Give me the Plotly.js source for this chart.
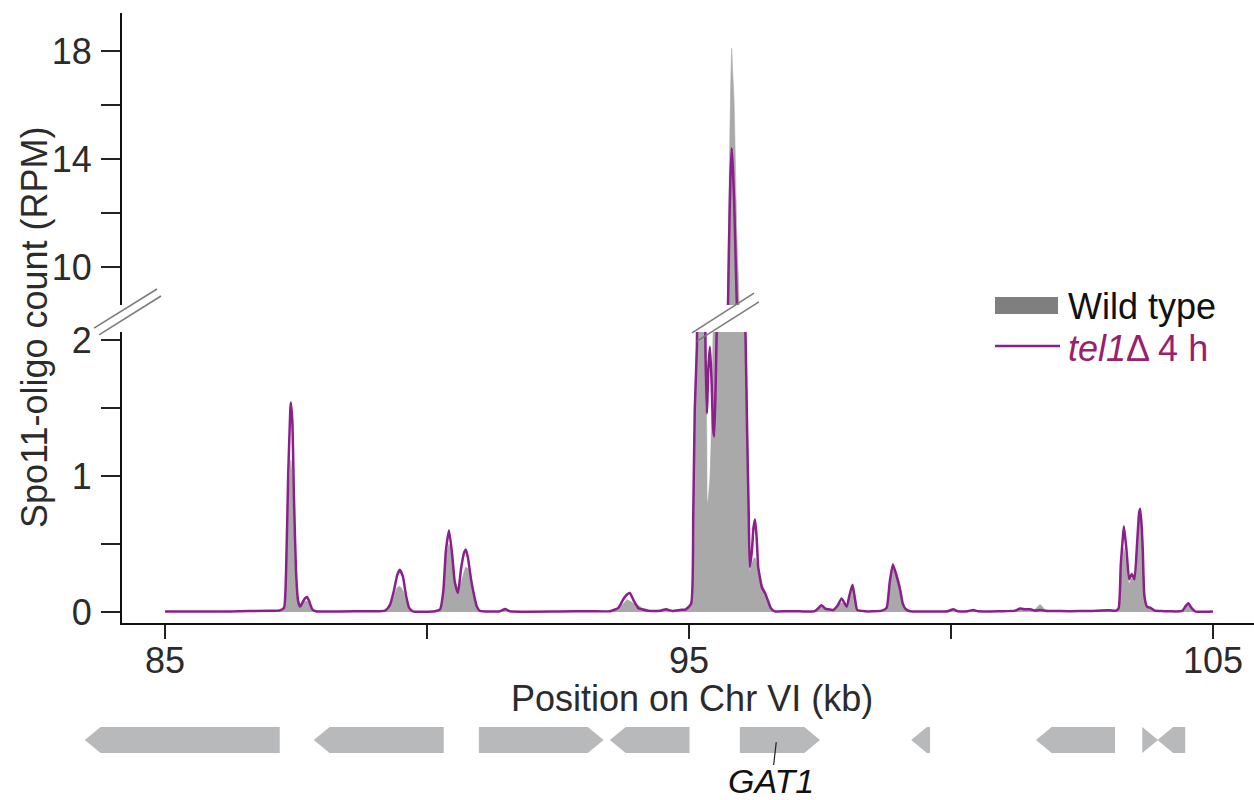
<!DOCTYPE html>
<html>
<head>
<meta charset="utf-8">
<script src="https://cdn.plot.ly/plotly-3.0.1.min.js"></script>
<style>html,body{margin:0;padding:0;background:#fff;}#chart{width:1254px;height:800px;}</style>
</head>
<body>
<div id="chart"></div>
<script>
// Position on Chr VI (kb)
const positionKb = [85.00,86.24,87.00,87.19,87.27,87.31,87.35,87.39,87.40,87.43,87.46,87.50,87.54,87.58,87.61,87.67,87.71,87.75,87.81,87.88,
88.34,88.91,89.20,89.29,89.37,89.43,89.48,89.54,89.60,89.66,89.73,90.15,90.25,90.31,90.36,90.42,90.48,90.53,90.59,90.65,
90.71,90.74,90.78,90.84,90.90,90.95,91.01,91.39,91.49,91.58,92.54,93.11,93.49,93.65,93.74,93.82,93.87,93.95,94.03,94.10,
94.22,94.45,94.56,94.68,94.83,94.94,95.04,95.08,95.11,95.15,95.19,95.25,95.30,95.315,95.34,95.35,95.37,95.40,95.43,95.46,
95.48,95.51,95.53,95.59,95.67,95.73,95.76,95.79,95.815,95.84,95.86,95.90,95.91,95.96,96.01,96.06,96.08,96.11,96.14,96.16,
96.20,96.23,96.26,96.29,96.32,96.36,96.39,96.45,96.51,96.56,96.64,96.83,97.12,97.40,97.53,97.60,97.65,97.75,97.84,97.91,
97.96,98.01,98.06,98.12,98.17,98.21,98.36,98.51,98.68,98.77,98.83,98.89,98.95,99.03,99.08,99.14,99.22,99.60,99.94,100.04,
100.13,100.32,100.42,100.52,100.94,101.22,101.32,101.41,101.51,101.60,101.70,101.79,101.89,102.27,102.65,103.03,103.15,103.20,103.24,103.28,
103.30,103.35,103.40,103.45,103.50,103.55,103.59,103.61,103.64,103.66,103.69,103.74,103.81,103.89,103.99,104.18,104.41,104.48,104.53,104.58,
104.66,105.00];

// Wild type Spo11-oligo count (RPM)
const wildType = [0.003,0.004,0.008,0.010,0.03,0.25,0.75,1.08,1.12,1.00,0.60,0.20,0.06,0.04,0.05,0.08,0.08,0.06,0.02,0.005,
0.003,0.005,0.01,0.04,0.12,0.18,0.19,0.16,0.08,0.02,0.005,0.005,0.02,0.12,0.40,0.50,0.38,0.20,0.13,0.22,
0.30,0.33,0.32,0.22,0.12,0.04,0.008,0.005,0.018,0.005,0.004,0.006,0.006,0.02,0.06,0.09,0.08,0.06,0.05,0.03,
0.01,0.008,0.02,0.008,0.015,0.02,0.05,0.5,1.3,2.1,3.5,4.0,3.0,2.2,1.3,0.80,0.85,1.00,1.40,2.10,
2.60,3.00,3.50,4.50,5.50,8.6,12.5,16.2,18.1,17.0,16.2,12.5,11.5,8.6,5.0,3.0,2.2,1.6,1.0,0.30,
0.36,0.39,0.40,0.36,0.28,0.23,0.21,0.15,0.07,0.02,0.005,0.012,0.005,0.006,0.045,0.02,0.02,0.015,0.04,0.07,
0.06,0.04,0.10,0.17,0.08,0.015,0.005,0.005,0.01,0.03,0.20,0.33,0.30,0.20,0.08,0.02,0.005,0.004,0.006,0.02,
0.006,0.006,0.015,0.005,0.006,0.01,0.03,0.02,0.025,0.02,0.055,0.02,0.008,0.006,0.008,0.015,0.01,0.03,0.25,0.42,
0.47,0.35,0.21,0.25,0.24,0.50,0.72,0.74,0.62,0.45,0.12,0.04,0.03,0.01,0.01,0.005,0.008,0.04,0.05,0.03,
0.005,0.003];

// tel1Δ 4 h Spo11-oligo count (RPM)
const tel1 = [0.003,0.004,0.010,0.012,0.03,0.30,1.00,1.48,1.54,1.40,0.85,0.30,0.08,0.04,0.06,0.10,0.11,0.08,0.02,0.005,
0.004,0.006,0.01,0.05,0.16,0.27,0.31,0.26,0.12,0.03,0.005,0.005,0.02,0.15,0.45,0.60,0.42,0.22,0.14,0.32,
0.44,0.46,0.40,0.24,0.12,0.04,0.008,0.006,0.022,0.006,0.004,0.006,0.006,0.03,0.09,0.13,0.14,0.08,0.03,0.02,
0.01,0.01,0.02,0.008,0.015,0.02,0.06,0.7,1.5,1.95,3.5,4.0,2.6,1.9,1.46,1.55,1.80,1.95,1.70,1.35,
1.29,1.70,2.10,3.00,4.50,7.2,10.5,13.3,14.4,13.5,12.5,9.5,8.8,5.5,3.5,2.3,2.0,1.3,0.7,0.33,
0.45,0.62,0.68,0.55,0.33,0.24,0.18,0.14,0.08,0.03,0.005,0.006,0.005,0.006,0.05,0.025,0.02,0.015,0.05,0.10,
0.07,0.04,0.12,0.20,0.09,0.015,0.005,0.005,0.01,0.03,0.22,0.35,0.28,0.16,0.06,0.02,0.005,0.004,0.006,0.02,
0.006,0.006,0.015,0.005,0.006,0.01,0.025,0.02,0.02,0.01,0.015,0.01,0.008,0.006,0.008,0.012,0.01,0.03,0.35,0.55,
0.63,0.45,0.24,0.28,0.24,0.50,0.73,0.76,0.62,0.45,0.12,0.04,0.03,0.01,0.008,0.005,0.008,0.045,0.065,0.035,
0.005,0.003];

// Genes (kb) and strand
const geneStart = [83.47, 87.84, 90.99, 93.49, 95.97, 99.24, 101.62, 103.65, 103.94];
const geneEnd   = [87.19, 90.32, 93.37, 95.01, 97.50, 99.60, 103.13, 103.95, 104.47];
const geneStrand = ['-', '-', '+', '-', '+', '-', '-', '+', '-'];
const geneLabel = ['', '', '', '', 'GAT1', '', '', '', ''];

const xTickVals = [85, 90, 95, 100, 105];
const xTickText = ['85', '', '95', '', '105'];
const yLowTickVals = [0, 0.5, 1, 1.5, 2];
const yLowTickText = ['0', '', '1', '', '2'];
const yHighTickVals = [10, 12, 14, 16, 18];
const yHighTickText = ['10', '', '14', '', '18'];

const FONT = 'Liberation Sans, Arial, sans-serif';
const TEXT = '#2b2b2b';
const GRAY = '#a9a9a9';
const PURPLE = '#8b1f8b';
const GENE = '#b8b9bb';

const traces = [];
['y', 'y2'].forEach(ya => {
  traces.push({x: positionKb, y: wildType, xaxis: 'x', yaxis: ya, type: 'scatter', mode: 'lines',
    fill: 'tozeroy', fillcolor: GRAY, line: {color: GRAY, width: 0.5, shape: 'spline', smoothing: 0.5},
    showlegend: false, hoverinfo: 'skip'});
  traces.push({x: positionKb, y: tel1, xaxis: 'x', yaxis: ya, type: 'scatter', mode: 'lines',
    line: {color: PURPLE, width: 2.5, shape: 'spline', smoothing: 0.5},
    showlegend: false, hoverinfo: 'skip'});
});

// gene arrows on their own track (x2 / y3), 1 y-unit = gene height
const HEAD = 0.30;
for (let i = 0; i < geneStart.length; i++) {
  const s = geneStart[i], e = geneEnd[i];
  const h = Math.min(HEAD, e - s);
  let xs, ys;
  if (geneStrand[i] === '+') {
    xs = [s, e - h, e, e - h, s, s];
    ys = [0.5, 0.5, 0, -0.5, -0.5, 0.5];
  } else {
    xs = [e, s + h, s, s + h, e, e];
    ys = [0.5, 0.5, 0, -0.5, -0.5, 0.5];
  }
  traces.push({x: xs, y: ys, xaxis: 'x2', yaxis: 'y3', type: 'scatter', mode: 'lines',
    fill: 'toself', fillcolor: GENE, line: {color: GENE, width: 0}, showlegend: false, hoverinfo: 'skip'});
}

const annotations = [];
const shapes = [];
for (let i = 0; i < geneStart.length; i++) {
  if (!geneLabel[i]) continue;
  const mid = (geneStart[i] + geneEnd[i]) / 2;
  shapes.push({type: 'line', xref: 'x2', yref: 'y3', x0: mid - 0.07, y0: -0.08, x1: mid - 0.12, y1: -0.96,
    line: {color: '#222', width: 1.2}});
  annotations.push({xref: 'x2', yref: 'y3', x: mid - 0.17, y: -1.58, text: '<i>' + geneLabel[i] + '</i>',
    showarrow: false, xanchor: 'center', yanchor: 'middle', font: {family: FONT, size: 34, color: '#111'}});
}

// axis titles
annotations.push({xref: 'paper', yref: 'paper', x: 0.52129, y: 0.1290, text: 'Position on Chr VI (kb)',
  showarrow: false, xanchor: 'center', yanchor: 'middle', font: {family: FONT, size: 36, color: TEXT}});
annotations.push({xref: 'paper', yref: 'paper', x: -0.03833, y: 0.60102, text: 'Spo11-oligo count (RPM)',
  textangle: -90, showarrow: false, xanchor: 'center', yanchor: 'middle', font: {family: FONT, size: 36, color: TEXT}});

// legend
shapes.push({type: 'rect', xref: 'paper', yref: 'paper', x0: 0.77939, x1: 0.83305, y0: 0.61753, y1: 0.63914,
  fillcolor: '#7f7f7f', line: {width: 0}});
shapes.push({type: 'line', xref: 'paper', yref: 'paper', x0: 0.77939, x1: 0.83475, y0: 0.57687, y1: 0.57687,
  line: {color: PURPLE, width: 2.5}});
annotations.push({xref: 'paper', yref: 'paper', x: 0.83986, y: 0.6277, text: 'Wild type', showarrow: false,
  xanchor: 'left', yanchor: 'middle', font: {family: FONT, size: 36, color: '#111'}});
annotations.push({xref: 'paper', yref: 'paper', x: 0.83986, y: 0.5740, text: '<i>tel1</i>Δ 4 h', showarrow: false,
  xanchor: 'left', yanchor: 'middle', font: {family: FONT, size: 36, color: '#99206c'}});

// axis break marks
const breaks = [
  [0.01193, 0.5997, 0.06559, 0.6493], [0.01618, 0.5909, 0.06899, 0.6404],
  [0.52129, 0.5934, 0.57411, 0.6442], [0.52555, 0.5832, 0.57836, 0.6328]
];
breaks.forEach(b => shapes.push({type: 'line', xref: 'paper', yref: 'paper', x0: b[0], y0: b[1], x1: b[2], y1: b[3],
  line: {color: '#7a7a7a', width: 1.5}}));

const axisCommon = {showgrid: false, zeroline: false, showline: true, linecolor: '#111', linewidth: 2,
  ticks: 'outside', tickcolor: '#222', tickwidth: 2, tickmode: 'array',
  tickfont: {family: FONT, size: 36, color: TEXT}};

const layout = {
  width: 1254, height: 800,
  margin: {l: 80, r: 0, t: 13, b: 0, pad: 0},
  paper_bgcolor: '#fff', plot_bgcolor: 'rgba(0,0,0,0)',
  showlegend: false,
  xaxis: Object.assign({}, axisCommon, {domain: [0.03578, 1], range: [84.179, 105.782], anchor: 'y',
    tickvals: xTickVals, ticktext: xTickText, ticklen: 14, ticklabelstandoff: -9}),
  yaxis: Object.assign({}, axisCommon, {domain: [0.22490, 0.59466], range: [-0.0809, 2.0588], anchor: 'x',
    tickvals: yLowTickVals, ticktext: yLowTickText, ticklen: 19, ticklabelstandoff: 2}),
  yaxis2: Object.assign({}, axisCommon, {domain: [0.62897, 1], range: [8.593, 19.407], anchor: 'x',
    tickvals: yHighTickVals, ticktext: yHighTickText, ticklen: 19, ticklabelstandoff: 2}),
  xaxis2: {domain: [0, 1], range: [83.378, 105.782], anchor: 'y3', visible: false, fixedrange: true},
  yaxis3: {domain: [0, 0.2249], range: [-2.3077, 4.5], anchor: 'x2', visible: false, fixedrange: true},
  shapes: shapes,
  annotations: annotations
};

Plotly.newPlot('chart', traces, layout, {staticPlot: true, displayModeBar: false});
</script>
</body>
</html>
